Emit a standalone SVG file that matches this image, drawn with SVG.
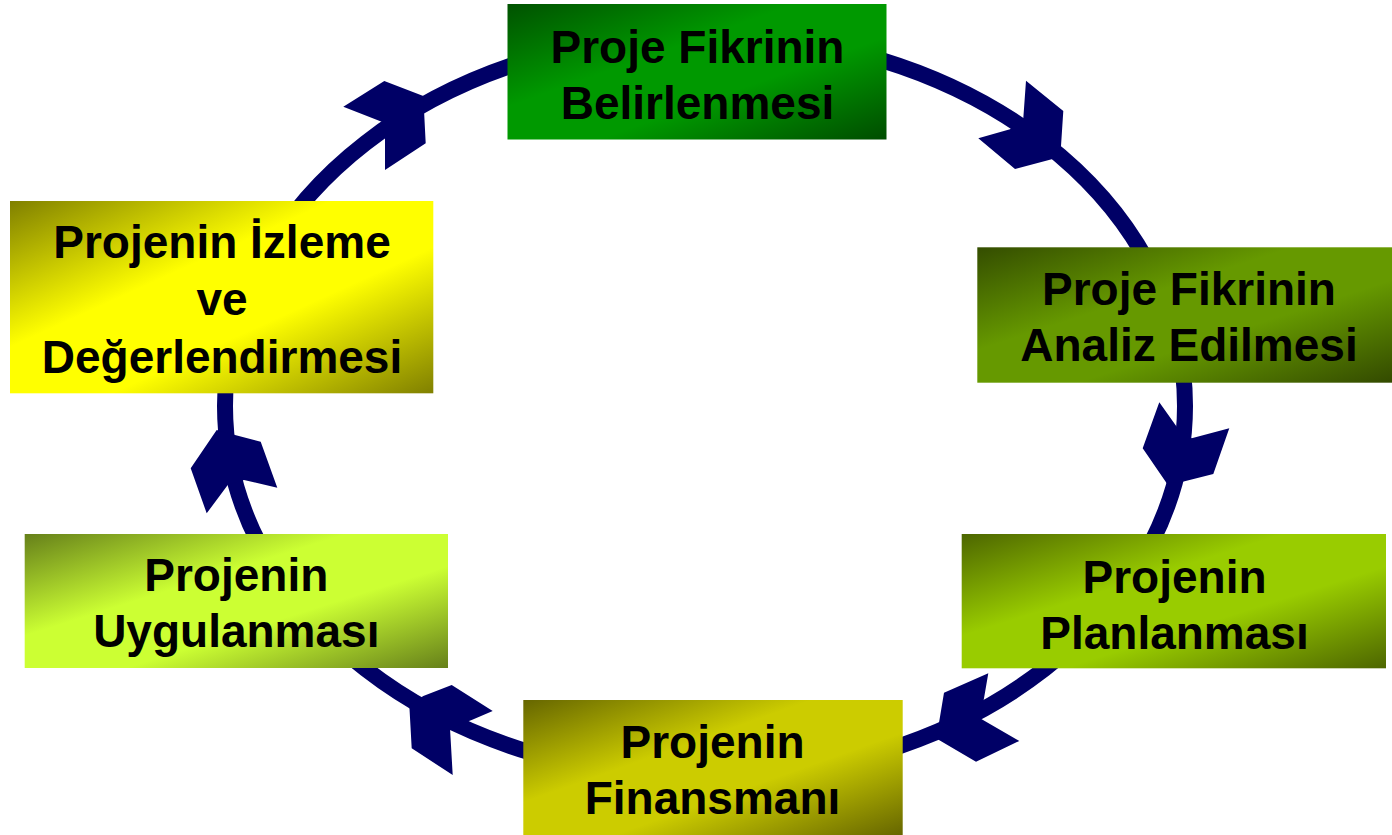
<svg xmlns="http://www.w3.org/2000/svg" width="1392" height="835" viewBox="0 0 1392 835">
<defs>
<style>
.lbl{font-family:"Liberation Sans",Arial,sans-serif;font-weight:bold;font-size:46px;fill:#000;text-anchor:middle}
.ring{fill:none;stroke:#000066;stroke-width:16}
.head{fill:#000066}
</style>
<linearGradient id="g1" x1="0" y1="0" x2="1" y2="1"><stop offset="0" stop-color="#005200"/><stop offset="0.38" stop-color="#009900"/><stop offset="0.62" stop-color="#009900"/><stop offset="1" stop-color="#004d00"/></linearGradient>
<linearGradient id="g2" x1="0" y1="0" x2="1" y2="1"><stop offset="0" stop-color="#344d00"/><stop offset="0.38" stop-color="#669900"/><stop offset="0.62" stop-color="#669900"/><stop offset="1" stop-color="#334a00"/></linearGradient>
<linearGradient id="g3" x1="0" y1="0" x2="1" y2="1"><stop offset="0" stop-color="#4d6600"/><stop offset="0.38" stop-color="#99cc00"/><stop offset="0.62" stop-color="#99cc00"/><stop offset="1" stop-color="#4d6600"/></linearGradient>
<linearGradient id="g4" x1="0" y1="0" x2="1" y2="1"><stop offset="0" stop-color="#666600"/><stop offset="0.38" stop-color="#cccc00"/><stop offset="0.62" stop-color="#cccc00"/><stop offset="1" stop-color="#666600"/></linearGradient>
<linearGradient id="g5" x1="0" y1="0" x2="1" y2="1"><stop offset="0" stop-color="#66801a"/><stop offset="0.38" stop-color="#ccff33"/><stop offset="0.62" stop-color="#ccff33"/><stop offset="1" stop-color="#66801a"/></linearGradient>
<linearGradient id="g6" x1="0" y1="0" x2="1" y2="1"><stop offset="0" stop-color="#808000"/><stop offset="0.38" stop-color="#ffff00"/><stop offset="0.62" stop-color="#ffff00"/><stop offset="1" stop-color="#808000"/></linearGradient>
</defs>
<rect width="1392" height="835" fill="#ffffff"/>
<g id="connectors">
<ellipse class="ring" cx="705" cy="406" rx="480" ry="372"/>
<polygon class="head" points="343.3,106.7 384.3,81 423.3,96 425.7,143.3 385,170 385,138.3 381.7,121.7"/>
<polygon class="head" points="1026,80.7 1063.3,111 1061,146 1051.7,159.3 1015,169 978.3,138.3 1010,129.3 1023.3,118.3"/>
<polygon class="head" points="1159.3,402.3 1176.7,426.7 1191.7,438.3 1229.3,428.3 1213.3,474 1182.7,481.7 1166.7,483.3 1142.7,448.3"/>
<polygon class="head" points="988.3,673.3 984,698.3 980,718.3 1019.3,741 976,761.7 936,738.3 939.3,721 944,692.7"/>
<polygon class="head" points="451.7,685 492.7,711 471.7,720 450,728.3 452.7,775 411.7,748.3 409.3,705 423.3,696"/>
<polygon class="head" points="216.7,430 235,435 260.7,441.7 277.3,487.7 244,480 228.3,484.3 206.7,513.3 190.7,468.3"/>
</g>
<g id="node1">
<rect x="507.5" y="4" width="379" height="135.5" fill="url(#g1)"/>
<text class="lbl" x="697.5" y="62.7">Proje Fikrinin</text>
<text class="lbl" x="697.5" y="119.3">Belirlenmesi</text>
</g>
<g id="node2">
<rect x="977.3" y="247.3" width="414.7" height="135.4" fill="url(#g2)"/>
<text class="lbl" x="1189" y="305">Proje Fikrinin</text>
<text class="lbl" x="1189" y="360.7">Analiz Edilmesi</text>
</g>
<g id="node3">
<rect x="961.7" y="534" width="424.3" height="134.3" fill="url(#g3)"/>
<text class="lbl" x="1174.5" y="592.7">Projenin</text>
<text class="lbl" x="1174.5" y="649.3">Planlanması</text>
</g>
<g id="node4">
<rect x="523.3" y="700" width="379.4" height="135" fill="url(#g4)"/>
<text class="lbl" x="712.5" y="757.7">Projenin</text>
<text class="lbl" x="712.5" y="814.3">Finansmanı</text>
</g>
<g id="node5">
<rect x="24.7" y="534" width="423.3" height="134" fill="url(#g5)"/>
<text class="lbl" x="236.3" y="591.3">Projenin</text>
<text class="lbl" x="236.3" y="647.3">Uygulanması</text>
</g>
<g id="node6">
<rect x="10" y="201" width="423.3" height="192.3" fill="url(#g6)"/>
<text class="lbl" x="222" y="258.3">Projenin İzleme</text>
<text class="lbl" x="222" y="315">ve</text>
<text class="lbl" x="222" y="372.5">Değerlendirmesi</text>
</g>
</svg>
